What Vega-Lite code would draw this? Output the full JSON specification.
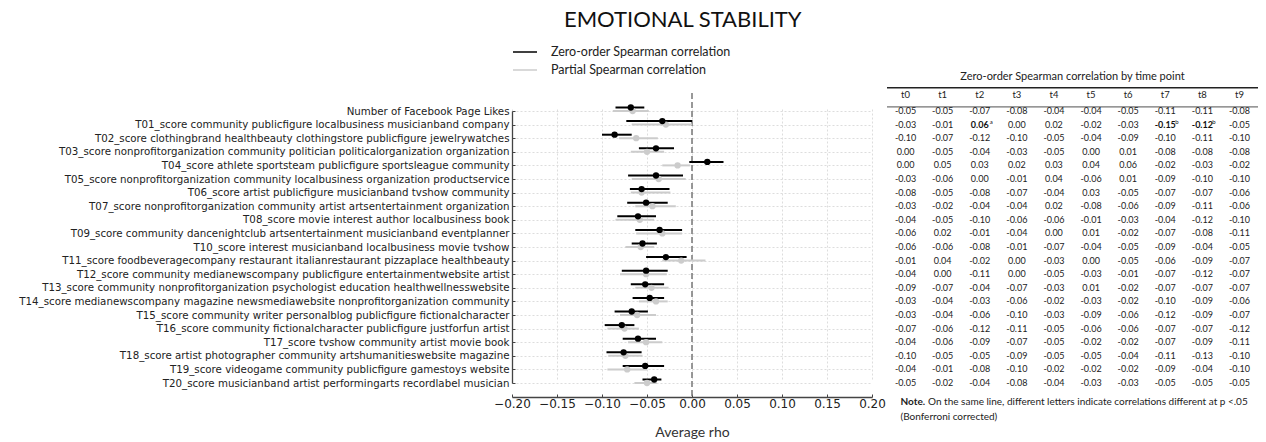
{
  "$schema": "https://vega.github.io/schema/vega-lite/v6.json",
  "background": "white",
  "padding": {"left": 18, "top": 8, "right": 2, "bottom": 4},
  "title": {"text": "EMOTIONAL STABILITY", "font": "Lato", "fontSize": 22, "fontWeight": "normal", "color": "#111111", "anchor": "middle", "frame": "bounds", "dx": 44, "offset": 12.5},
  "config": {
    "locale": {"number": {"decimal": ".", "thousands": ",", "grouping": [3], "currency": ["$", ""], "minus": "-"}},
    "view": {"stroke": null}
  },
  "bounds": "flush",
  "spacing": 15,
  "datasets": {
    "forest": [
      {"label": "Number of Facebook Page Likes", "type": "Zero-order Spearman correlation", "rho": -0.068, "lo": -0.085, "hi": -0.053},
      {"label": "T01_score community publicfigure localbusiness musicianband company", "type": "Zero-order Spearman correlation", "rho": -0.033, "lo": -0.073, "hi": 0.0},
      {"label": "T02_score clothingbrand healthbeauty clothingstore publicfigure jewelrywatches", "type": "Zero-order Spearman correlation", "rho": -0.086, "lo": -0.1, "hi": -0.067},
      {"label": "T03_score nonprofitorganization community politician politicalorganization organization", "type": "Zero-order Spearman correlation", "rho": -0.04, "lo": -0.059, "hi": -0.02},
      {"label": "T04_score athlete sportsteam publicfigure sportsleague community", "type": "Zero-order Spearman correlation", "rho": 0.017, "lo": -0.003, "hi": 0.035},
      {"label": "T05_score nonprofitorganization community localbusiness organization productservice", "type": "Zero-order Spearman correlation", "rho": -0.04, "lo": -0.071, "hi": -0.01},
      {"label": "T06_score artist publicfigure musicianband tvshow community", "type": "Zero-order Spearman correlation", "rho": -0.056, "lo": -0.069, "hi": -0.025},
      {"label": "T07_score nonprofitorganization community artist artsentertainment organization", "type": "Zero-order Spearman correlation", "rho": -0.051, "lo": -0.072, "hi": -0.027},
      {"label": "T08_score movie interest author localbusiness book", "type": "Zero-order Spearman correlation", "rho": -0.06, "lo": -0.083, "hi": -0.04},
      {"label": "T09_score community dancenightclub artsentertainment musicianband eventplanner", "type": "Zero-order Spearman correlation", "rho": -0.036, "lo": -0.063, "hi": -0.011},
      {"label": "T10_score interest musicianband localbusiness movie tvshow", "type": "Zero-order Spearman correlation", "rho": -0.055, "lo": -0.067, "hi": -0.039},
      {"label": "T11_score foodbeveragecompany restaurant italianrestaurant pizzaplace healthbeauty", "type": "Zero-order Spearman correlation", "rho": -0.029, "lo": -0.051, "hi": -0.006},
      {"label": "T12_score community medianewscompany publicfigure entertainmentwebsite artist", "type": "Zero-order Spearman correlation", "rho": -0.051, "lo": -0.078, "hi": -0.027},
      {"label": "T13_score community nonprofitorganization psychologist education healthwellnesswebsite", "type": "Zero-order Spearman correlation", "rho": -0.052, "lo": -0.068, "hi": -0.031},
      {"label": "T14_score medianewscompany magazine newsmediawebsite nonprofitorganization community", "type": "Zero-order Spearman correlation", "rho": -0.047, "lo": -0.066, "hi": -0.031},
      {"label": "T15_score community writer personalblog publicfigure fictionalcharacter", "type": "Zero-order Spearman correlation", "rho": -0.067, "lo": -0.086, "hi": -0.049},
      {"label": "T16_score community fictionalcharacter publicfigure justforfun artist", "type": "Zero-order Spearman correlation", "rho": -0.078, "lo": -0.097, "hi": -0.064},
      {"label": "T17_score tvshow community artist movie book", "type": "Zero-order Spearman correlation", "rho": -0.06, "lo": -0.077, "hi": -0.04},
      {"label": "T18_score artist photographer community artshumanitieswebsite magazine", "type": "Zero-order Spearman correlation", "rho": -0.076, "lo": -0.095, "hi": -0.056},
      {"label": "T19_score videogame community publicfigure gamestoys website", "type": "Zero-order Spearman correlation", "rho": -0.052, "lo": -0.077, "hi": -0.031},
      {"label": "T20_score musicianband artist performingarts recordlabel musician", "type": "Zero-order Spearman correlation", "rho": -0.042, "lo": -0.055, "hi": -0.034},
      {"label": "Number of Facebook Page Likes", "type": "Partial Spearman correlation", "rho": -0.066, "lo": -0.088, "hi": -0.048},
      {"label": "T01_score community publicfigure localbusiness musicianband company", "type": "Partial Spearman correlation", "rho": -0.029, "lo": -0.067, "hi": 0.0},
      {"label": "T02_score clothingbrand healthbeauty clothingstore publicfigure jewelrywatches", "type": "Partial Spearman correlation", "rho": -0.062, "lo": -0.081, "hi": -0.038},
      {"label": "T03_score nonprofitorganization community politician politicalorganization organization", "type": "Partial Spearman correlation", "rho": -0.05, "lo": -0.068, "hi": -0.031},
      {"label": "T04_score athlete sportsteam publicfigure sportsleague community", "type": "Partial Spearman correlation", "rho": -0.016, "lo": -0.033, "hi": -0.002},
      {"label": "T05_score nonprofitorganization community localbusiness organization productservice", "type": "Partial Spearman correlation", "rho": -0.037, "lo": -0.067, "hi": -0.007},
      {"label": "T06_score artist publicfigure musicianband tvshow community", "type": "Partial Spearman correlation", "rho": -0.056, "lo": -0.068, "hi": -0.024},
      {"label": "T07_score nonprofitorganization community artist artsentertainment organization", "type": "Partial Spearman correlation", "rho": -0.044, "lo": -0.063, "hi": -0.018},
      {"label": "T08_score movie interest author localbusiness book", "type": "Partial Spearman correlation", "rho": -0.058, "lo": -0.085, "hi": -0.042},
      {"label": "T09_score community dancenightclub artsentertainment musicianband eventplanner", "type": "Partial Spearman correlation", "rho": -0.033, "lo": -0.062, "hi": -0.011},
      {"label": "T10_score interest musicianband localbusiness movie tvshow", "type": "Partial Spearman correlation", "rho": -0.057, "lo": -0.074, "hi": -0.042},
      {"label": "T11_score foodbeveragecompany restaurant italianrestaurant pizzaplace healthbeauty", "type": "Partial Spearman correlation", "rho": -0.012, "lo": -0.033, "hi": 0.015},
      {"label": "T12_score community medianewscompany publicfigure entertainmentwebsite artist", "type": "Partial Spearman correlation", "rho": -0.051, "lo": -0.08, "hi": -0.028},
      {"label": "T13_score community nonprofitorganization psychologist education healthwellnesswebsite", "type": "Partial Spearman correlation", "rho": -0.045, "lo": -0.063, "hi": -0.026},
      {"label": "T14_score medianewscompany magazine newsmediawebsite nonprofitorganization community", "type": "Partial Spearman correlation", "rho": -0.04, "lo": -0.059, "hi": -0.027},
      {"label": "T15_score community writer personalblog publicfigure fictionalcharacter", "type": "Partial Spearman correlation", "rho": -0.061, "lo": -0.08, "hi": -0.04},
      {"label": "T16_score community fictionalcharacter publicfigure justforfun artist", "type": "Partial Spearman correlation", "rho": -0.075, "lo": -0.094, "hi": -0.059},
      {"label": "T17_score tvshow community artist movie book", "type": "Partial Spearman correlation", "rho": -0.051, "lo": -0.071, "hi": -0.033},
      {"label": "T18_score artist photographer community artshumanitieswebsite magazine", "type": "Partial Spearman correlation", "rho": -0.074, "lo": -0.093, "hi": -0.055},
      {"label": "T19_score videogame community publicfigure gamestoys website", "type": "Partial Spearman correlation", "rho": -0.072, "lo": -0.094, "hi": -0.05},
      {"label": "T20_score musicianband artist performingarts recordlabel musician", "type": "Partial Spearman correlation", "rho": -0.05, "lo": -0.064, "hi": -0.039}
    ],
    "table": [
      {"row": 0, "t0": -0.05, "t1": -0.05, "t2": -0.07, "t3": -0.08, "t4": -0.04, "t5": -0.04, "t6": -0.05, "t7": -0.11, "t8": -0.11, "t9": -0.08},
      {"row": 1, "t0": -0.03, "t1": -0.01, "t3": 0.0, "t4": 0.02, "t5": -0.02, "t6": -0.03, "t9": -0.05},
      {"row": 2, "t0": -0.1, "t1": -0.07, "t2": -0.12, "t3": -0.1, "t4": -0.05, "t5": -0.04, "t6": -0.09, "t7": -0.1, "t8": -0.11, "t9": -0.1},
      {"row": 3, "t0": 0.0, "t1": -0.05, "t2": -0.04, "t3": -0.03, "t4": -0.05, "t5": 0.0, "t6": 0.01, "t7": -0.08, "t8": -0.08, "t9": -0.08},
      {"row": 4, "t0": 0.0, "t1": 0.05, "t2": 0.03, "t3": 0.02, "t4": 0.03, "t5": 0.04, "t6": 0.06, "t7": -0.02, "t8": -0.03, "t9": -0.02},
      {"row": 5, "t0": -0.03, "t1": -0.06, "t2": 0.0, "t3": -0.01, "t4": 0.04, "t5": -0.06, "t6": 0.01, "t7": -0.09, "t8": -0.1, "t9": -0.1},
      {"row": 6, "t0": -0.08, "t1": -0.05, "t2": -0.08, "t3": -0.07, "t4": -0.04, "t5": 0.03, "t6": -0.05, "t7": -0.07, "t8": -0.07, "t9": -0.06},
      {"row": 7, "t0": -0.03, "t1": -0.02, "t2": -0.04, "t3": -0.04, "t4": 0.02, "t5": -0.08, "t6": -0.06, "t7": -0.09, "t8": -0.11, "t9": -0.06},
      {"row": 8, "t0": -0.04, "t1": -0.05, "t2": -0.1, "t3": -0.06, "t4": -0.06, "t5": -0.01, "t6": -0.03, "t7": -0.04, "t8": -0.12, "t9": -0.1},
      {"row": 9, "t0": -0.06, "t1": 0.02, "t2": -0.01, "t3": -0.04, "t4": 0.0, "t5": 0.01, "t6": -0.02, "t7": -0.07, "t8": -0.08, "t9": -0.11},
      {"row": 10, "t0": -0.06, "t1": -0.06, "t2": -0.08, "t3": -0.01, "t4": -0.07, "t5": -0.04, "t6": -0.05, "t7": -0.09, "t8": -0.04, "t9": -0.05},
      {"row": 11, "t0": -0.01, "t1": 0.04, "t2": -0.02, "t3": 0.0, "t4": -0.03, "t5": 0.0, "t6": -0.05, "t7": -0.06, "t8": -0.09, "t9": -0.07},
      {"row": 12, "t0": -0.04, "t1": 0.0, "t2": -0.11, "t3": 0.0, "t4": -0.05, "t5": -0.03, "t6": -0.01, "t7": -0.07, "t8": -0.12, "t9": -0.07},
      {"row": 13, "t0": -0.09, "t1": -0.07, "t2": -0.04, "t3": -0.07, "t4": -0.03, "t5": 0.01, "t6": -0.02, "t7": -0.07, "t8": -0.07, "t9": -0.07},
      {"row": 14, "t0": -0.03, "t1": -0.04, "t2": -0.03, "t3": -0.06, "t4": -0.02, "t5": -0.03, "t6": -0.02, "t7": -0.1, "t8": -0.09, "t9": -0.06},
      {"row": 15, "t0": -0.03, "t1": -0.04, "t2": -0.06, "t3": -0.1, "t4": -0.03, "t5": -0.09, "t6": -0.06, "t7": -0.12, "t8": -0.09, "t9": -0.07},
      {"row": 16, "t0": -0.07, "t1": -0.06, "t2": -0.12, "t3": -0.11, "t4": -0.05, "t5": -0.06, "t6": -0.06, "t7": -0.07, "t8": -0.07, "t9": -0.12},
      {"row": 17, "t0": -0.04, "t1": -0.06, "t2": -0.09, "t3": -0.07, "t4": -0.05, "t5": -0.02, "t6": -0.02, "t7": -0.07, "t8": -0.09, "t9": -0.11},
      {"row": 18, "t0": -0.1, "t1": -0.05, "t2": -0.05, "t3": -0.09, "t4": -0.05, "t5": -0.05, "t6": -0.04, "t7": -0.11, "t8": -0.13, "t9": -0.1},
      {"row": 19, "t0": -0.04, "t1": -0.01, "t2": -0.08, "t3": -0.1, "t4": -0.02, "t5": -0.02, "t6": -0.02, "t7": -0.09, "t8": -0.04, "t9": -0.1},
      {"row": 20, "t0": -0.05, "t1": -0.02, "t2": -0.04, "t3": -0.08, "t4": -0.04, "t5": -0.03, "t6": -0.03, "t7": -0.05, "t8": -0.05, "t9": -0.05}
    ],
    "sig": [
      {"row": 1, "t": "t2", "r": 0.06, "letter": "a"},
      {"row": 1, "t": "t7", "r": -0.15, "letter": "b"},
      {"row": 1, "t": "t8", "r": -0.12, "letter": "b"}
    ]
  },
  "hconcat": [
    {
      "width": 360,
      "height": 304,
      "data": {"name": "forest"},
      "layer": [
        {
          "data": {"values": [{}]},
          "mark": {"type": "rule", "color": "#777777", "strokeWidth": 1.5, "strokeDash": [6, 3]},
          "encoding": {"x": {"datum": 0, "type": "quantitative"}}
        },
        {
          "transform": [{"filter": "datum.type == 'Partial Spearman correlation'"}],
          "mark": {"type": "rule", "strokeWidth": 2},
          "encoding": {
            "x": {
              "field": "lo", "type": "quantitative",
              "scale": {"domain": [-0.2, 0.2], "nice": false, "zero": false},
              "axis": {
                "title": "Average rho",
                "values": [-0.2, -0.15, -0.1, -0.05, 0, 0.05, 0.1, 0.15, 0.2],
                "format": ".2f",
                "labelExpr": "replace(datum.label, '-', '\u2212')",
                "labelFont": "DejaVu Sans", "labelFontSize": 12, "labelColor": "#222222",
                "labelPadding": 4, "labelFlush": false, "labelOverlap": false,
                "tickSize": -3, "tickColor": "#444444",
                "domainColor": "#444444", "domainWidth": 1.3,
                "grid": true, "gridDash": [2, 2], "gridColor": "#dddddd",
                "titleFont": "Lato", "titleFontSize": 14, "titleFontWeight": "normal", "titleColor": "#333333", "titlePadding": 16
              }
            },
            "x2": {"field": "hi"},
            "y": {
              "field": "label", "type": "nominal", "sort": null,
              "scale": {"type": "point", "padding": 0, "range": [18, 290]},
              "axis": {
                "title": null,
                "labelFont": "DejaVu Sans", "labelFontSize": 10.25, "labelColor": "#222222", "labelLimit": 800,
                "labelPadding": 6, "tickSize": -3, "tickColor": "#444444",
                "domainColor": "#444444", "domainWidth": 1.3,
                "grid": true, "gridDash": [2, 2], "gridColor": "#dddddd"
              }
            },
            "color": {
              "field": "type", "type": "nominal",
              "scale": {"domain": ["Zero-order Spearman correlation", "Partial Spearman correlation"], "range": ["#000000", "#cccccc"]},
              "legend": {
                "title": null, "orient": "none", "legendX": 0, "legendY": -49,
                "symbolType": "stroke", "symbolSize": 576, "symbolStrokeWidth": 1.6,
                "labelFont": "Lato", "labelFontSize": 12.5, "labelColor": "#222222", "labelLimit": 400,
                "labelOffset": 13, "rowPadding": 2, "clipHeight": 16, "padding": 0
              }
            }
          }
        },
        {
          "transform": [{"filter": "datum.type == 'Zero-order Spearman correlation'"}],
          "mark": {"type": "rule", "strokeWidth": 2, "yOffset": -3.5},
          "encoding": {
            "x": {"field": "lo", "type": "quantitative"},
            "x2": {"field": "hi"},
            "y": {"field": "label", "type": "nominal", "sort": null},
            "color": {"field": "type", "type": "nominal"}
          }
        },
        {
          "transform": [{"filter": "datum.type == 'Partial Spearman correlation'"}],
          "mark": {"type": "point", "filled": true, "size": 40, "opacity": 1},
          "encoding": {
            "x": {"field": "rho", "type": "quantitative"},
            "y": {"field": "label", "type": "nominal", "sort": null},
            "color": {"field": "type", "type": "nominal"}
          }
        },
        {
          "transform": [{"filter": "datum.type == 'Zero-order Spearman correlation'"}],
          "mark": {"type": "point", "filled": true, "size": 40, "opacity": 1, "yOffset": -3.5},
          "encoding": {
            "x": {"field": "rho", "type": "quantitative"},
            "y": {"field": "label", "type": "nominal", "sort": null},
            "color": {"field": "type", "type": "nominal"}
          }
        }
      ]
    },
    {
      "width": 371,
      "height": 304,
      "title": {"text": "Zero-order Spearman correlation by time point", "font": "Lato", "fontSize": 11, "fontWeight": "normal", "color": "#222222", "offset": 5},
      "data": {"name": "table"},
      "transform": [
        {"fold": ["t0", "t1", "t2", "t3", "t4", "t5", "t6", "t7", "t8", "t9"], "as": ["t", "r"]},
        {"filter": "isValid(datum.r)"}
      ],
      "resolve": {"scale": {"y": "independent"}},
      "layer": [
        {
          "layer": [
            {
              "mark": {"type": "text", "font": "Lato", "fontSize": 9, "color": "#222222"},
              "encoding": {
                "x": {"field": "t", "type": "nominal", "scale": {"domain": ["t0", "t1", "t2", "t3", "t4", "t5", "t6", "t7", "t8", "t9"], "paddingInner": 0, "paddingOuter": 0}, "axis": null},
                "y": {"field": "row", "type": "ordinal", "scale": {"type": "point", "domain": [0, 1, 2, 3, 4, 5, 6, 7, 8, 9, 10, 11, 12, 13, 14, 15, 16, 17, 18, 19, 20], "padding": 0, "range": [18, 290]}, "axis": null},
                "text": {"field": "r", "type": "quantitative", "format": ".2f"}
              }
            },
            {
              "data": {"name": "sig"},
              "mark": {"type": "text", "font": "Lato", "fontSize": 9, "fontWeight": "bold", "color": "#111111"},
              "encoding": {
                "x": {"field": "t", "type": "nominal"},
                "y": {"field": "row", "type": "ordinal"},
                "text": {"field": "r", "type": "quantitative", "format": ".2f"}
              }
            },
            {
              "data": {"name": "sig"},
              "mark": {"type": "text", "font": "Lato", "fontSize": 6, "align": "left", "dx": 10, "dy": -3, "color": "#111111"},
              "encoding": {
                "x": {"field": "t", "type": "nominal"},
                "y": {"field": "row", "type": "ordinal"},
                "text": {"field": "letter"}
              }
            }
          ]
        },
        {
          "layer": [
            {
              "transform": [{"filter": "datum.row == 0"}],
              "mark": {"type": "text", "font": "Lato", "fontSize": 9.5, "color": "#222222"},
              "encoding": {
                "x": {"field": "t", "type": "nominal"},
                "y": {"datum": -1.17, "type": "quantitative", "scale": {"domain": [-1.3235, 21.029], "reverse": true, "nice": false, "zero": false}, "axis": null},
                "text": {"field": "t"}
              }
            },
            {
              "data": {"values": [{}]},
              "mark": {"type": "rule", "color": "#222222", "strokeWidth": 1.5},
              "encoding": {"y": {"datum": -1.71, "type": "quantitative"}}
            },
            {
              "data": {"values": [{}]},
              "mark": {"type": "rule", "color": "#222222", "strokeWidth": 0.8},
              "encoding": {"y": {"datum": -0.3, "type": "quantitative"}}
            },
            {
              "data": {"values": [{}]},
              "mark": {"type": "text", "font": "Lato", "fontSize": 10, "fontWeight": "bold", "align": "left", "dx": -5, "color": "#222222"},
              "encoding": {"x": {"datum": "t0", "type": "nominal"}, "y": {"datum": 21.4, "type": "quantitative"}, "text": {"value": "Note."}}
            },
            {
              "data": {"values": [{}]},
              "mark": {"type": "text", "font": "Lato", "fontSize": 10, "align": "left", "dx": 22.5, "color": "#222222"},
              "encoding": {"x": {"datum": "t0", "type": "nominal"}, "y": {"datum": 21.4, "type": "quantitative"}, "text": {"value": "On the same line, different letters indicate correlations different at p <.05"}}
            },
            {
              "data": {"values": [{}]},
              "mark": {"type": "text", "font": "Lato", "fontSize": 10, "align": "left", "dx": -5, "color": "#222222"},
              "encoding": {"x": {"datum": "t0", "type": "nominal"}, "y": {"datum": 22.5, "type": "quantitative"}, "text": {"value": "(Bonferroni corrected)"}}
            }
          ]
        }
      ]
    }
  ]
}
